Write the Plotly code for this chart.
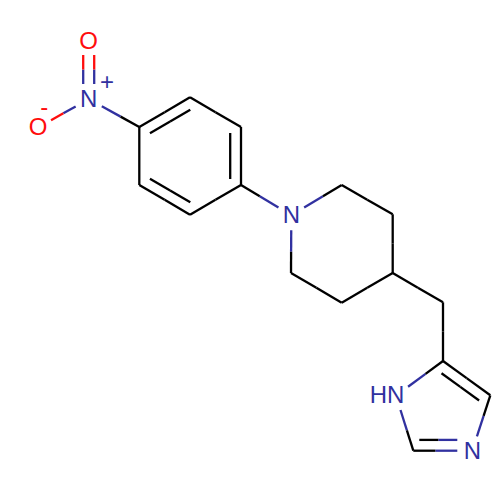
import numpy as np
import plotly.graph_objects as go

# atoms, pixel positions (y grows downward)
atom_names = ['N1', 'O1', 'O2', 'C1', 'C2', 'C3', 'C4', 'C5', 'C6', 'N2', 'C7', 'C8',
              'C9', 'C10', 'C11', 'C12', 'C13', 'N3', 'C14', 'N4', 'C15']
atom_x = [88.7, 88.7, 38.0, 139.3, 190.0, 241.0, 241.0, 190.0, 139.3, 291.3, 341.7, 392.7,
          392.7, 341.7, 291.0, 443.0, 443.0, 396.0, 413.3, 472.3, 490.3]
atom_y = [99.0, 41.0, 127.7, 127.0, 97.3, 127.0, 185.0, 214.7, 185.0, 215.3, 185.0, 214.3,
          273.0, 302.7, 273.0, 302.3, 361.0, 395.7, 450.7, 450.7, 395.3]
atom_gap = [15, 14, 15, 0, 0, 0, 0, 0, 0, 15, 0, 0, 0, 0, 0, 0, 0, 15, 0, 15, 0]
atom_color = ['#3131a0' if n[0] == 'N' else '#ff0d0d' if n[0] == 'O' else '#000000' for n in atom_names]

# bonds: start atom, end atom, order, side of the second line (0 = centred pair)
bond_from = ['N1', 'N1', 'N1', 'C1', 'C2', 'C3', 'C4', 'C5', 'C6', 'C4', 'N2', 'C7', 'C8', 'C9', 'C10', 'C11',
             'C9', 'C12', 'C13', 'N3', 'N4', 'C13', 'C15']
bond_to = ['O1', 'O2', 'C1', 'C2', 'C3', 'C4', 'C5', 'C6', 'C1', 'N2', 'C7', 'C8', 'C9', 'C10', 'C11', 'N2',
           'C12', 'C13', 'N3', 'C14', 'C14', 'C15', 'N4']
bond_order = [2, 1, 1, 2, 1, 2, 1, 2, 1, 1, 1, 1, 1, 1, 1, 1, 1, 1, 1, 1, 2, 2, 1]
bond_side = [0, 0, 0, 1, 0, 1, 0, 1, 0, 0, 0, 0, 0, 0, 0, 0, 0, 0, 0, 0, 1, 1, 0]

# labels
label_text = ['N', 'O', 'O', 'N', 'HN', 'N', '+', '-']
label_x = [88.7, 88.7, 38.0, 291.3, 387.0, 472.3, 107.0, 44.3]
label_y = [100.5, 42.5, 129.2, 216.8, 397.2, 453.2, 83.5, 108.5]
label_color = ['#3131a0', '#ff0d0d', '#ff0d0d', '#3131a0', '#3131a0', '#3131a0', '#3131a0', '#ff0d0d']

line_w = 2.3
pair_offset = 5.5
inner_offset = 10.8
inner_shrink = 6

idx = {n: i for i, n in enumerate(atom_names)}
pieces = {}

def add_piece(color, p, q):
    xs, ys = pieces.setdefault(color, ([], []))
    xs += [p[0], q[0], None]
    ys += [p[1], q[1], None]

def add_line(a, b, offset, shrink):
    # trim at labelled atoms, each half takes the colour of its own atom
    ia, ib = idx[a], idx[b]
    p = np.array([atom_x[ia], atom_y[ia]])
    q = np.array([atom_x[ib], atom_y[ib]])
    d = (q - p) / np.linalg.norm(q - p)
    n = np.array([-d[1], d[0]])
    start = p + n * offset + d * (atom_gap[ia] or shrink)
    end = q + n * offset - d * (atom_gap[ib] or shrink)
    mid = (start + end) / 2
    add_piece(atom_color[ia], start, mid)
    add_piece(atom_color[ib], mid, end)

for a, b, order, side in zip(bond_from, bond_to, bond_order, bond_side):
    if order == 1:
        add_line(a, b, 0, 0)
    elif side == 0:
        add_line(a, b, pair_offset, 0)
        add_line(a, b, -pair_offset, 0)
    else:
        add_line(a, b, 0, 0)
        add_line(a, b, side * inner_offset, inner_shrink)

fig = go.Figure()
for color, (xs, ys) in pieces.items():
    fig.add_trace(go.Scatter(x=xs, y=ys, mode='lines', line=dict(color=color, width=line_w), hoverinfo='skip'))

fig.add_trace(go.Scatter(x=label_x, y=label_y, mode='text', text=label_text, textposition='middle center',
                         textfont=dict(family='Liberation Sans', size=24, color=label_color), hoverinfo='skip'))

fig.update_layout(width=500, height=500, margin=dict(l=0, r=0, t=0, b=0), showlegend=False,
                  paper_bgcolor='white', plot_bgcolor='white',
                  xaxis=dict(range=[0, 500], visible=False),
                  yaxis=dict(range=[500, 0], visible=False))
# browser default body margin would shift the drawing by 8px
fig.write_html("out.html", config={'displayModeBar': False},
               post_script="document.body.style.margin='0';")
